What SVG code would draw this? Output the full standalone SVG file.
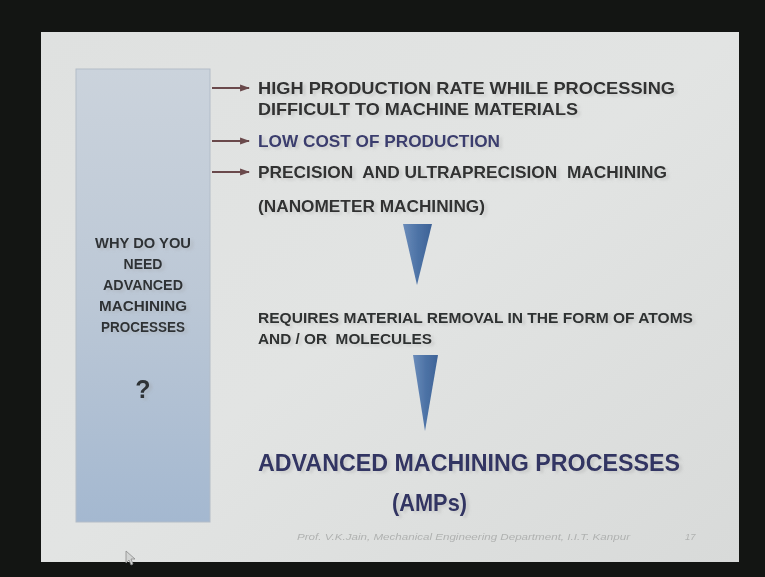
<svg xmlns="http://www.w3.org/2000/svg" width="765" height="577" viewBox="0 0 765 577">
  <defs>
    <linearGradient id="slideBg" x1="0" y1="0" x2="1" y2="1">
      <stop offset="0" stop-color="#dfe1e0"/>
      <stop offset="0.5" stop-color="#e2e4e3"/>
      <stop offset="1" stop-color="#d8dad9"/>
    </linearGradient>
    <linearGradient id="boxFill" x1="0" y1="0" x2="0" y2="1">
      <stop offset="0" stop-color="#cbd3dc"/>
      <stop offset="0.5" stop-color="#bcc8d6"/>
      <stop offset="1" stop-color="#a4b8d0"/>
    </linearGradient>
    <linearGradient id="triFill" x1="0" y1="0" x2="1" y2="0">
      <stop offset="0" stop-color="#6b8cba"/>
      <stop offset="0.5" stop-color="#4d73a6"/>
      <stop offset="1" stop-color="#3d6296"/>
    </linearGradient>
    <marker id="head" viewBox="0 0 10 10" refX="9" refY="5" markerWidth="4.5" markerHeight="4.5" orient="auto">
      <path d="M0,1.5 L10,5 L0,8.5 z" fill="#6a4a4c"/>
    </marker>
    <!-- soft smear with a faint shadow, like projected slide text -->
    <filter id="soft" x="-5%" y="-30%" width="110%" height="160%">
      <feGaussianBlur in="SourceGraphic" stdDeviation="0.7" result="b"/>
      <feOffset in="SourceAlpha" dx="2.5" dy="1.5" result="o"/>
      <feGaussianBlur in="o" stdDeviation="1.6" result="ob"/>
      <feColorMatrix in="ob" type="matrix" values="0 0 0 0 0.3  0 0 0 0 0.3  0 0 0 0 0.3  0 0 0 0.3 0" result="sh"/>
      <feMerge>
        <feMergeNode in="sh"/>
        <feMergeNode in="b"/>
      </feMerge>
    </filter>
    <filter id="blur"><feGaussianBlur stdDeviation="0.6"/></filter>
  </defs>
  <style>
    .t { font-family: "Liberation Sans", Arial, sans-serif; font-weight: bold; }
    .body { font-size: 16.5px; fill: #303232; }
    .blue { fill: #3b3e6e; }
    .small { font-size: 14.5px; fill: #2e3030; }
    .big { font-size: 24.5px; fill: #333663; }
    .side { font-size: 14.5px; fill: #2f3336; text-anchor: middle; }
    .foot { font-family: "Liberation Sans", Arial, sans-serif; font-style: italic; font-size: 9.5px; fill: #b0b2b1; }
    .arrow { stroke: #6a4a4c; stroke-width: 2.2; fill: none; }
  </style>

  <!-- dark surround -->
  <rect x="0" y="0" width="765" height="577" fill="#131513"/>
  <!-- slide -->
  <rect x="41" y="32" width="698" height="530" fill="url(#slideBg)" filter="url(#blur)"/>

  <!-- question box -->
  <g id="why-box" filter="url(#blur)">
    <rect x="76" y="69" width="134" height="453" fill="url(#boxFill)" stroke="#b3bdc8" stroke-width="1"/>
  </g>
  <g id="why-text" class="t" filter="url(#soft)">
    <text class="t side" x="143" y="248" textLength="96" lengthAdjust="spacingAndGlyphs">WHY DO YOU</text>
    <text class="t side" x="143" y="269" textLength="39" lengthAdjust="spacingAndGlyphs">NEED</text>
    <text class="t side" x="143" y="290" textLength="80" lengthAdjust="spacingAndGlyphs">ADVANCED</text>
    <text class="t side" x="143" y="311" textLength="88" lengthAdjust="spacingAndGlyphs">MACHINING</text>
    <text class="t side" x="143" y="332" textLength="84" lengthAdjust="spacingAndGlyphs">PROCESSES</text>
    <text class="t side" x="143" y="398" style="font-size:25px">?</text>
  </g>

  <!-- connectors from the box to the reasons -->
  <g id="connectors" filter="url(#blur)">
    <line class="arrow" x1="212" y1="88" x2="249" y2="88" marker-end="url(#head)"/>
    <line class="arrow" x1="212" y1="141" x2="249" y2="141" marker-end="url(#head)"/>
    <line class="arrow" x1="212" y1="172" x2="249" y2="172" marker-end="url(#head)"/>
  </g>

  <!-- reasons -->
  <g id="reason-rate" filter="url(#soft)">
    <text class="t body" x="258" y="94" textLength="417" lengthAdjust="spacingAndGlyphs">HIGH PRODUCTION RATE WHILE PROCESSING</text>
    <text class="t body" x="258" y="115" textLength="320" lengthAdjust="spacingAndGlyphs">DIFFICULT TO MACHINE MATERIALS</text>
  </g>
  <g id="reason-cost" filter="url(#soft)">
    <text class="t body blue" x="258" y="147" textLength="242" lengthAdjust="spacingAndGlyphs">LOW COST OF PRODUCTION</text>
  </g>
  <g id="reason-precision" filter="url(#soft)">
    <text class="t body" x="258" y="178" textLength="409" lengthAdjust="spacingAndGlyphs" xml:space="preserve">PRECISION  AND ULTRAPRECISION  MACHINING</text>
    <text class="t body" x="258" y="212" textLength="227" lengthAdjust="spacingAndGlyphs">(NANOMETER MACHINING)</text>
  </g>

  <!-- downward pointers -->
  <g id="pointer-1" filter="url(#blur)">
    <polygon points="403,224 432,224 417,285" fill="url(#triFill)"/>
  </g>

  <g id="requirement" filter="url(#soft)">
    <text class="t small" x="258" y="323" textLength="435" lengthAdjust="spacingAndGlyphs">REQUIRES MATERIAL REMOVAL IN THE FORM OF ATOMS</text>
    <text class="t small" x="258" y="344" textLength="174" lengthAdjust="spacingAndGlyphs" xml:space="preserve">AND / OR  MOLECULES</text>
  </g>

  <g id="pointer-2" filter="url(#blur)">
    <polygon points="413,355 438,355 425,431" fill="url(#triFill)"/>
  </g>

  <g id="result" filter="url(#soft)">
    <text class="t big" x="258" y="471" textLength="422" lengthAdjust="spacingAndGlyphs">ADVANCED MACHINING PROCESSES</text>
    <text class="t big" x="392" y="511" textLength="75" lengthAdjust="spacingAndGlyphs">(AMPs)</text>
  </g>

  <!-- footer -->
  <g id="footer" filter="url(#blur)">
    <text class="foot" x="297" y="540" textLength="333" lengthAdjust="spacingAndGlyphs">Prof. V.K.Jain, Mechanical Engineering Department, I.I.T. Kanpur</text>
    <text class="foot" x="685" y="540">17</text>
  </g>

  <!-- mouse pointer -->
  <path d="M126,551 L126,563 L129,560 L131,565 L133,564 L131,559 L135,559 Z" fill="#d2d4d3" stroke="#8a8c8b" stroke-width="0.8" filter="url(#blur)"/>
</svg>
